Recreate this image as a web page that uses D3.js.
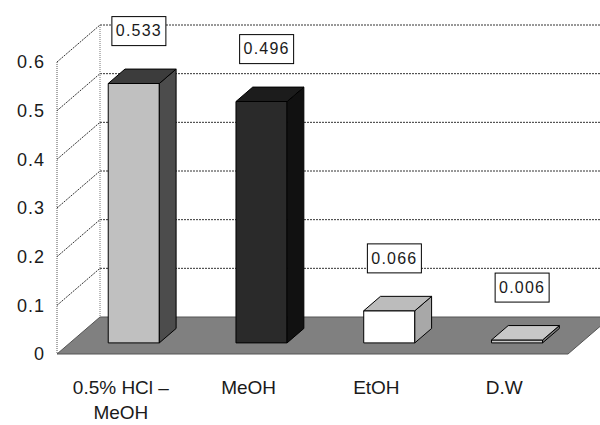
<!DOCTYPE html>
<html>
<head>
<meta charset="utf-8">
<script src="https://cdn.jsdelivr.net/npm/d3@7"></script>
<style>
body { margin: 0; background: #fff; }
text { font-family: "Liberation Sans", Arial, sans-serif; fill: #1a1a1a; }
</style>
</head>
<body>
<svg id="chart" width="600" height="425"></svg>
<script>
// data
var categories = [["0.5% HCl \u2013", "MeOH"], ["MeOH"], ["EtOH"], ["D.W"]];
var values = [0.533, 0.496, 0.066, 0.006];
var labels = ["0.533", "0.496", "0.066", "0.006"];
var ticks = [0, 0.1, 0.2, 0.3, 0.4, 0.5, 0.6];

// face colours: front, side, top
var faceColors = [
	["#c0c0c0", "#4c4c4c", "#3c3c3c"],
	["#2a2a2a", "#111111", "#1c1c1c"],
	["#ffffff", "#a8a8a8", "#bcbcbc"],
	["#c8c8c8", "#777777", "#c8c8c8"]
];

var svg = d3.select("#chart");

var plotL = 57, plotR = 568, plotB = 354, plotT = 62;
var DX = 43, DY = -37;   // depth of the box
var d1 = 0.3, d2 = 0.69; // bar depth (front, back)

var x = d3.scaleBand()
	.domain(d3.range(values.length))
	.range([plotL, plotR])
	.paddingInner(0.6)
	.paddingOuter(0.3);

var y = d3.scaleLinear()
	.domain([0, 0.6])
	.range([plotB, plotT]);

function p(px, py, d) { return [px + d * DX, py + d * DY]; }
function poly(pts) { return pts.map(function(q) { return q.join(","); }).join(" "); }

// back wall gridlines
svg.selectAll(".grid")
	.data(ticks.slice(1))
.enter().append("line")
	.attr("class", "grid")
	.attr("x1", plotL + DX)
	.attr("x2", 620)
	.attr("y1", function(d) { return y(d) + DY; })
	.attr("y2", function(d) { return y(d) + DY; })
	.attr("stroke", "#333")
	.attr("stroke-width", 1)
	.attr("stroke-dasharray", "2 1");

// left wall lines
svg.selectAll(".wall")
	.data(ticks.slice(1))
.enter().append("line")
	.attr("class", "wall")
	.attr("x1", plotL)
	.attr("y1", function(d) { return y(d); })
	.attr("x2", plotL + DX)
	.attr("y2", function(d) { return y(d) + DY; })
	.attr("stroke", "#333")
	.attr("stroke-dasharray", "2 1");

svg.append("line")
	.attr("x1", plotL).attr("x2", plotL)
	.attr("y1", y(0.6)).attr("y2", y(0))
	.attr("stroke", "#555").attr("stroke-dasharray", "1 1");
svg.append("line")
	.attr("x1", plotL + DX).attr("x2", plotL + DX)
	.attr("y1", y(0.6) + DY).attr("y2", y(0) + DY)
	.attr("stroke", "#777").attr("stroke-dasharray", "1 1");

// floor
svg.append("polygon")
	.attr("points", poly([p(plotL, plotB, 0), p(plotR, plotB, 0), p(plotR, plotB, 1), p(plotL, plotB, 1)]))
	.attr("fill", "#808080")
	.attr("stroke", "#555")
	.attr("stroke-width", 1);

// bars
var bars = svg.selectAll(".bar")
	.data(values)
.enter().append("g")
	.attr("class", "bar");

bars.each(function(v, i) {
	var g = d3.select(this);
	var x0 = x(i), x1 = x(i) + x.bandwidth();
	var yt = y(v), yb = y(0);
	var c = faceColors[i];
	g.append("polygon")
		.attr("points", poly([p(x0, yt, d1), p(x1, yt, d1), p(x1, yb, d1), p(x0, yb, d1)]))
		.attr("fill", c[0]).attr("stroke", "#000");
	g.append("polygon")
		.attr("points", poly([p(x1, yt, d1), p(x1, yt, d2), p(x1, yb, d2), p(x1, yb, d1)]))
		.attr("fill", c[1]).attr("stroke", "#000");
	g.append("polygon")
		.attr("points", poly([p(x0, yt, d1), p(x1, yt, d1), p(x1, yt, d2), p(x0, yt, d2)]))
		.attr("fill", c[2]).attr("stroke", "#000");
});

// value labels
var lab = svg.selectAll(".lab")
	.data(values)
.enter().append("g")
	.attr("class", "lab")
	.attr("transform", function(d, i) {
		return "translate(" + (x(i) + x.bandwidth() / 2 + 18) + "," + (y(d) - 64) + ")";
	});

lab.append("rect")
	.attr("x", -27).attr("y", -14)
	.attr("width", 54).attr("height", 29)
	.attr("fill", "#fff")
	.attr("stroke", "#000");

lab.append("text")
	.attr("text-anchor", "middle")
	.attr("dy", "0.36em")
	.style("font-size", "16px")
	.style("letter-spacing", "1.2px")
	.text(function(d, i) { return labels[i]; });

// y tick labels
svg.selectAll(".tick")
	.data(ticks)
.enter().append("text")
	.attr("class", "tick")
	.attr("x", 45)
	.attr("y", function(d) { return y(d); })
	.attr("dy", "0.36em")
	.attr("text-anchor", "end")
	.style("font-size", "18px")
	.style("letter-spacing", "1px")
	.text(function(d) { return d === 0 ? "0" : d3.format(".1f")(d); });

// category labels
var cat = svg.selectAll(".cat")
	.data(categories)
.enter().append("text")
	.attr("class", "cat")
	.attr("text-anchor", "middle")
	.style("font-size", "19px");

cat.selectAll("tspan")
	.data(function(d, i) { return d.map(function(s) { return { s: s, i: i }; }); })
.enter().append("tspan")
	.attr("x", function(d) { return x(d.i) + x.bandwidth() / 2; })
	.attr("y", function(d, j) { return 387 + j * 25; })
	.attr("dy", "0.36em")
	.text(function(d) { return d.s; });
</script>
</body>
</html>
